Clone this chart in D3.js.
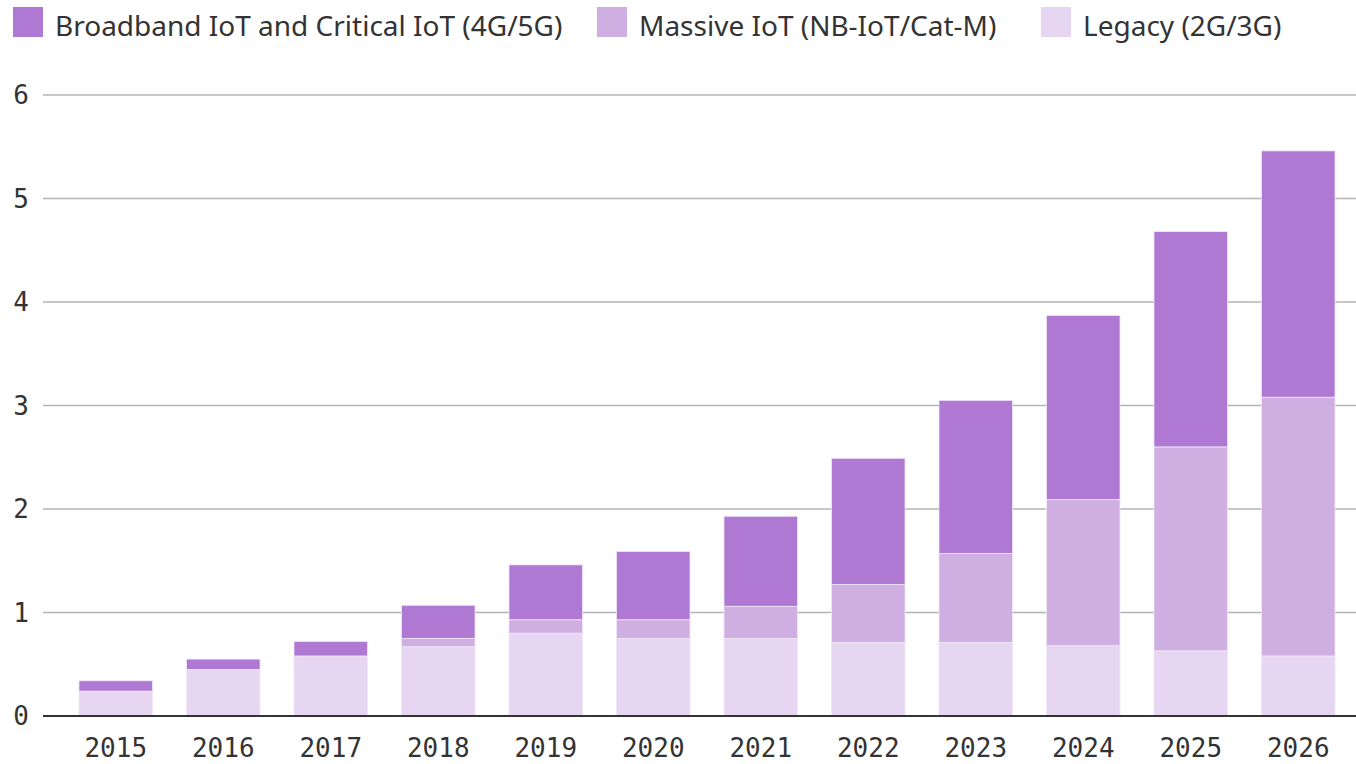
<!DOCTYPE html>
<html>
<head>
<meta charset="utf-8">
<script src="https://cdn.jsdelivr.net/npm/d3@7"></script>
<style>
  body { margin: 0; background: #fff; }
  svg { display: block; }
</style>
</head>
<body>
<div id="container"></div>
<script>
/* DATA */
const years = ["2015", "2016", "2017", "2018", "2019", "2020", "2021", "2022", "2023", "2024", "2025", "2026"];
const legacy = [0.24, 0.45, 0.58, 0.67, 0.80, 0.75, 0.75, 0.71, 0.71, 0.68, 0.63, 0.58];
const massive = [0, 0, 0, 0.08, 0.13, 0.18, 0.31, 0.56, 0.86, 1.41, 1.97, 2.50];
const broadband = [0.10, 0.10, 0.14, 0.32, 0.53, 0.66, 0.87, 1.22, 1.48, 1.78, 2.08, 2.38];
const yTicks = [0, 1, 2, 3, 4, 5, 6];

const seriesKeys = ["legacy", "massive", "broadband"];
const seriesLabels = {
  broadband: "Broadband IoT and Critical IoT (4G/5G)",
  massive: "Massive IoT (NB-IoT/Cat-M)",
  legacy: "Legacy (2G/3G)"
};
const colors = { broadband: "#af79d3", massive: "#cfaee2", legacy: "#e6d6f1" };

const width = 1356, height = 764;

// table for the stack
const table = years.map((y, i) => ({
  year: y, legacy: legacy[i], massive: massive[i], broadband: broadband[i]
}));

/* SCALES */
const xScale = d3.scaleBand()
  .domain(years)
  .range([62, 1352])
  .paddingInner(0.316)
  .paddingOuter(0.158);

const yScale = d3.scaleLinear()
  .domain([0, 6])
  .range([716, 95]);

const svg = d3.select("#container")
  .append("svg")
  .attr("width", width)
  .attr("height", height);

// gridlines
svg.append("g")
  .selectAll("line")
  .data(yTicks.filter(d => d > 0))
  .join("line")
  .attr("x1", 43)
  .attr("x2", width)
  .attr("y1", d => yScale(d))
  .attr("y2", d => yScale(d))
  .attr("stroke", "#b4b4b4")
  .attr("stroke-width", 1.5);

// y labels
svg.append("g")
  .selectAll("text")
  .data(yTicks)
  .join("text")
  .attr("x", 29)
  .attr("y", d => yScale(d))
  .attr("dy", "0.36em")
  .attr("text-anchor", "end")
  .attr("font-family", "DejaVu Sans Mono")
  .attr("font-size", 26)
  .attr("fill", "#333")
  .text(d => d);

// stacked bars
const stacked = d3.stack().keys(seriesKeys)(table);

svg.append("g")
  .selectAll("g")
  .data(stacked)
  .join("g")
  .attr("fill", d => colors[d.key])
  .selectAll("rect")
  .data(d => d)
  .join("rect")
  .attr("x", d => xScale(d.data.year))
  .attr("width", xScale.bandwidth())
  .attr("y", d => yScale(d[1]))
  .attr("height", d => yScale(d[0]) - yScale(d[1]))
  .attr("stroke", "#f1e8f8")
  .attr("stroke-width", 0.8);

// baseline
svg.append("line")
  .attr("x1", 43)
  .attr("x2", width)
  .attr("y1", yScale(0))
  .attr("y2", yScale(0))
  .attr("stroke", "#333")
  .attr("stroke-width", 2);

// x axis labels
svg.append("g")
  .selectAll("text")
  .data(years)
  .join("text")
  .attr("x", d => xScale(d) + xScale.bandwidth() / 2)
  .attr("y", 757)
  .attr("text-anchor", "middle")
  .attr("font-family", "DejaVu Sans Mono")
  .attr("font-size", 26)
  .attr("fill", "#333")
  .text(d => d);

// legend
const legendItems = [
  { key: "broadband", x: 13 },
  { key: "massive", x: 597 },
  { key: "legacy", x: 1041 }
];
const legend = svg.append("g")
  .selectAll("g")
  .data(legendItems)
  .join("g")
  .attr("transform", d => `translate(${d.x},7)`);

legend.append("rect")
  .attr("width", 30)
  .attr("height", 30)
  .attr("fill", d => colors[d.key]);

legend.append("text")
  .attr("x", 42)
  .attr("y", 29)
  .attr("font-family", "Noto Sans")
  .attr("font-size", 28)
  .attr("fill", "#333")
  .text(d => seriesLabels[d.key]);
</script>
</body>
</html>
